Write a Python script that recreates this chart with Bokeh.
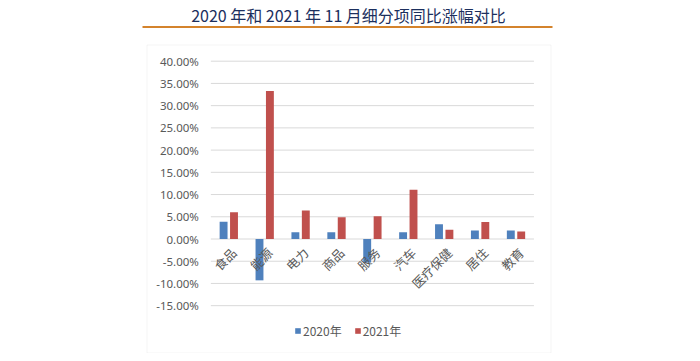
import math
from bokeh.plotting import figure
from bokeh.models import (ColumnDataSource, BoxAnnotation, Label, Legend, LegendItem)
from bokeh.core.properties import value
from bokeh.embed import file_html
from bokeh.resources import INLINE

categories = ["食品", "能源", "电力", "商品", "服务", "汽车", "医疗保健", "居住", "教育"]
y2020 = [0.039, -0.093, 0.015, 0.015, -0.053, 0.015, 0.033, 0.019, 0.019]
y2021 = [0.060, 0.333, 0.064, 0.049, 0.051, 0.111, 0.021, 0.038, 0.017]
yticks = [-0.15, -0.10, -0.05, 0.0, 0.05, 0.10, 0.15, 0.20, 0.25, 0.30, 0.35, 0.40]
ytick_labels = ["-15.00%", "-10.00%", "-5.00%", "0.00%", "5.00%", "10.00%", "15.00%",
                "20.00%", "25.00%", "30.00%", "35.00%", "40.00%"]
title_text = "2020 年和 2021 年 11 月细分项同比涨幅对比"
series_names = ["2020年", "2021年"]

BLUE = "#4f81bd"
RED = "#c0504d"
CJK = "Noto Sans CJK SC"
LABEL_GRAY = "#595959"

n = len(categories)
idx = list(range(n))
src = ColumnDataSource(dict(
    x=idx, cat=categories, a=y2020, b=y2021, zero=[0.0] * n,
    xa=[i - 0.145 for i in idx], xb=[i + 0.145 for i in idx]))
tick_src = ColumnDataSource(dict(
    y=yticks, lab=ytick_labels,
    x0=[-0.5] * len(yticks), x1=[n - 0.5] * len(yticks)))

W, H = 692, 353
p = figure(x_range=(-6.359, 12.916), y_range=(-0.25759, 0.53656),
           width=W, height=H, output_backend="svg", toolbar_location=None,
           min_border=0)
p.outline_line_color = None
p.background_fill_color = "white"
p.border_fill_color = "white"
p.xaxis.visible = False
p.yaxis.visible = False
p.grid.visible = False

# chart box
p.add_layout(BoxAnnotation(left=146.5, right=550.5, top=44.5, bottom=352.5,
                           left_units="canvas", right_units="canvas",
                           top_units="canvas", bottom_units="canvas",
                           fill_alpha=0, line_color="#d9d9d9", line_width=1, level="underlay"))

# gridlines and value labels (y axis)
p.segment(x0="x0", x1="x1", y0="y", y1="y", source=tick_src,
          line_color="#d9d9d9", line_width=1)
p.text(x="x0", y="y", text="lab", source=tick_src, x_offset=-12,
       text_align="right", text_baseline="middle", text_font=value("Noto Sans"),
       text_font_size="11.5px", text_color=LABEL_GRAY)

r1 = p.vbar(x="xa", top="a", bottom="zero", width=0.22, source=src,
            fill_color=BLUE, line_color=None)
r2 = p.vbar(x="xb", top="b", bottom="zero", width=0.22, source=src,
            fill_color=RED, line_color=None)

# category labels along the zero line
p.text(x="x", y="zero", text="cat", source=src, angle=math.pi / 4,
       text_align="right", text_baseline="middle", x_offset=5, y_offset=11,
       text_font=value(CJK), text_font_size="12.5px", text_color=LABEL_GRAY)

legend = Legend(items=[LegendItem(label=series_names[0], renderers=[r1]),
                       LegendItem(label=series_names[1], renderers=[r2])],
                orientation="horizontal", location=(294, 14),
                glyph_width=7, glyph_height=7, label_text_font=CJK,
                label_text_font_size="12px", label_text_color=LABEL_GRAY,
                spacing=12, padding=0, margin=0, label_standoff=2,
                border_line_color=None, background_fill_alpha=0)
p.add_layout(legend, "center")

# header rule and title
p.add_layout(BoxAnnotation(left=142, right=552, top=25.5, bottom=27.5,
                           left_units="canvas", right_units="canvas",
                           top_units="canvas", bottom_units="canvas",
                           fill_color="#d4832c", fill_alpha=1, line_color=None))
p.add_layout(Label(x=348, y=14, x_units="canvas", y_units="canvas", text=title_text,
                   text_align="center", text_baseline="middle", text_font=CJK,
                   text_font_size="16px", text_font_style="normal", text_color="#1c2f5e"))

open("out.html", "w").write(file_html(p, INLINE))
